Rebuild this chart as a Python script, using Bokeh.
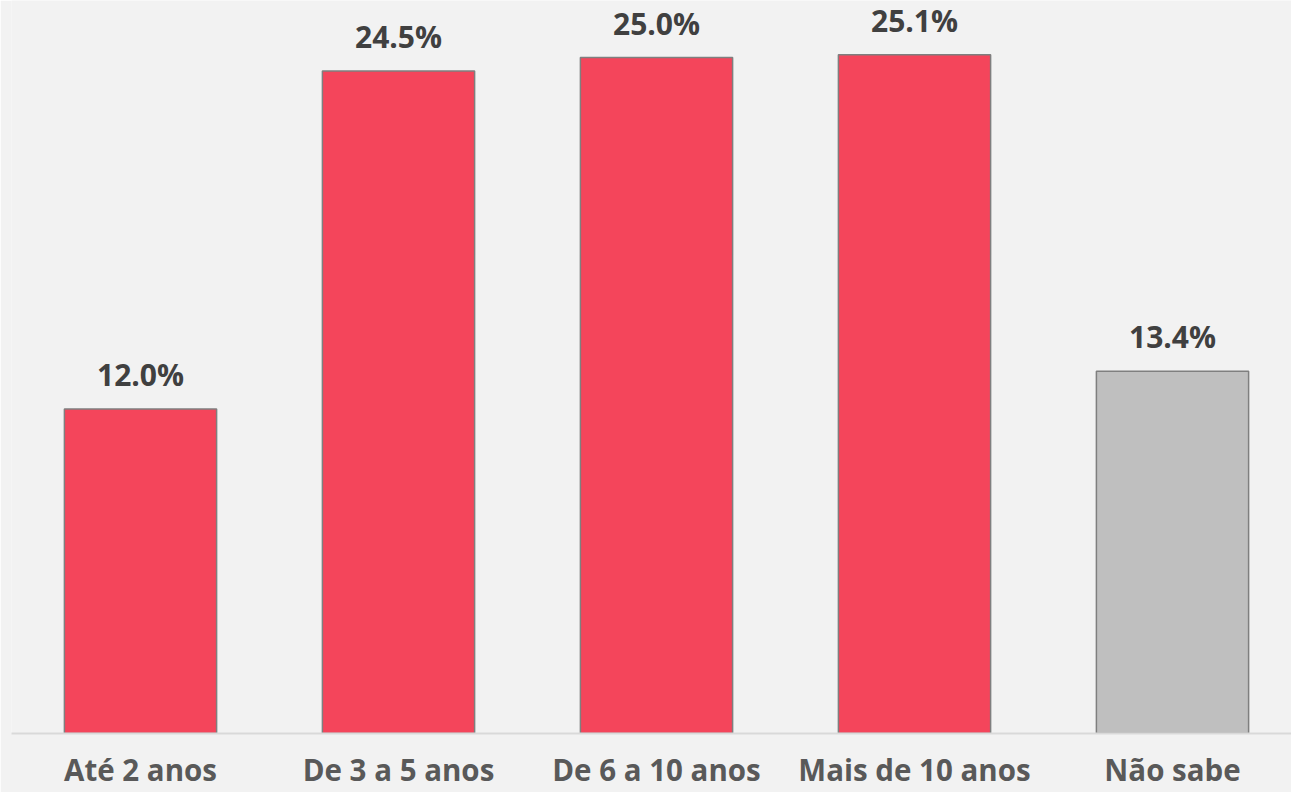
from bokeh.plotting import figure
from bokeh.models import ColumnDataSource, Range1d, FixedTicker
from bokeh.core.properties import value
from bokeh.embed import file_html
from bokeh.resources import INLINE

categories = ["Até 2 anos", "De 3 a 5 anos", "De 6 a 10 anos", "Mais de 10 anos", "Não sabe"]
values = [12.0, 24.5, 25.0, 25.1, 13.4]
colors = ["#F4455B", "#F4455B", "#F4455B", "#F4455B", "#BFBFBF"]
labels = [f"{v:.1f}%" for v in values]

xs = list(range(len(categories)))
src = ColumnDataSource(dict(x=xs, top=values, color=colors, label=labels))

W, H = 1291, 792
p = figure(width=W, height=H, output_backend="svg", toolbar_location=None,
           x_range=Range1d(-0.5, -0.5 + 1280 / 258), y_range=Range1d(0, 27.11),
           min_border_left=11, min_border_right=0, min_border_top=0, min_border_bottom=57)
p.background_fill_color = "#F2F2F2"
p.border_fill_color = "#F2F2F2"
p.outline_line_color = None
p.grid.visible = False
p.yaxis.visible = False

p.vbar(x="x", top="top", bottom=0, width=0.59, fill_color="color",
       line_color="#7F7F7F", line_width=1.5, source=src)
p.text(x="x", y="top", text="label", source=src, text_align="center",
       text_baseline="bottom", y_offset=-14, text_font=value("Open Sans"),
       text_font_style="bold", text_font_size="30px", text_color="#404040")

ax = p.xaxis[0]
ax.ticker = FixedTicker(ticks=xs)
ax.major_label_overrides = {i: c for i, c in enumerate(categories)}
ax.axis_line_color = "#D9D9D9"
ax.axis_line_width = 2
ax.major_tick_line_color = None
ax.minor_tick_line_color = None
ax.major_tick_out = 0
ax.major_tick_in = 0
ax.major_label_text_font = "Open Sans"
ax.major_label_text_font_style = "bold"
ax.major_label_text_font_size = "29.5px"
ax.major_label_text_color = "#595959"
ax.major_label_standoff = 15

open("out.html", "w").write(file_html(p, INLINE))
